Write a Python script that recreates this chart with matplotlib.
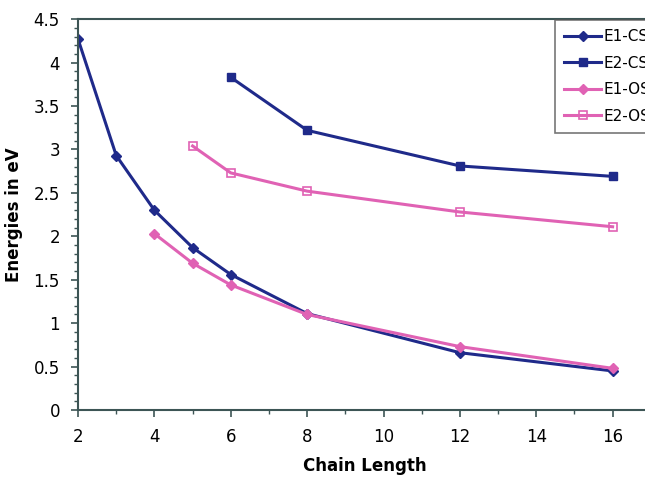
import numpy as np
import matplotlib
matplotlib.use('Agg')
import matplotlib.pyplot as plt
from matplotlib.ticker import MultipleLocator, FormatStrFormatter

# data
x_e1cs = [2, 3, 4, 5, 6, 8, 12, 16]
e1_cs = [4.27, 2.93, 2.30, 1.87, 1.56, 1.11, 0.66, 0.45]
x_e2cs = [6, 8, 12, 16]
e2_cs = [3.83, 3.22, 2.81, 2.69]
x_e1os = [4, 5, 6, 8, 12, 16]
e1_os = [2.03, 1.69, 1.44, 1.10, 0.73, 0.48]
x_e2os = [5, 6, 8, 12, 16]
e2_os = [3.04, 2.73, 2.52, 2.28, 2.11]

navy = '#1f2a8a'
pink = '#e062b4'
spine_col = '#3d5555'

fig = plt.figure(figsize=(6.45, 4.79), dpi=100)
ax = fig.add_axes([0.121, 0.144, 0.888, 0.816])

ax.plot(x_e1cs, e1_cs, color=navy, lw=2.2, marker='D', ms=5, label='E1-CS')
ax.plot(x_e2cs, e2_cs, color=navy, lw=2.2, marker='s', ms=6, label='E2-CS')
ax.plot(x_e1os, e1_os, color=pink, lw=2.2, marker='D', ms=5, label='E1-OS')
ax.plot(x_e2os, e2_os, color=pink, lw=2.2, marker='s', ms=6, mfc='none',
        mew=1.2, label='E2-OS')

ax.set_xlim(2, 17)
ax.set_ylim(0, 4.5)
ax.set_xticks([2, 4, 6, 8, 10, 12, 14, 16])
ax.xaxis.set_minor_locator(MultipleLocator(1))
ax.yaxis.set_major_locator(MultipleLocator(0.5))
ax.yaxis.set_minor_locator(MultipleLocator(0.1))
ax.yaxis.set_major_formatter(FormatStrFormatter('%g'))

for s in ax.spines.values():
    s.set_color(spine_col)
    s.set_linewidth(1.5)
ax.tick_params(which='major', direction='out', length=5, width=1.2,
               color=spine_col, labelsize=12, pad=8)
ax.tick_params(which='minor', direction='out', length=3, width=1,
               color=spine_col)

ax.set_xlabel('Chain Length', fontsize=12, fontweight='bold', labelpad=8)
ax.set_ylabel('Energies in eV', fontsize=12, fontweight='bold', labelpad=8)

leg = ax.legend(loc='upper left', bbox_to_anchor=(555 / 645, 1 - 20 / 479),
                bbox_transform=fig.transFigure, fancybox=False, fontsize=11,
                handlelength=2.4, borderpad=0.6, labelspacing=0.75,
                handletextpad=0.2, borderaxespad=0)
leg.get_frame().set_edgecolor('#555555')
leg.get_frame().set_linewidth(1.2)

fig.savefig('out.png', dpi=100)
